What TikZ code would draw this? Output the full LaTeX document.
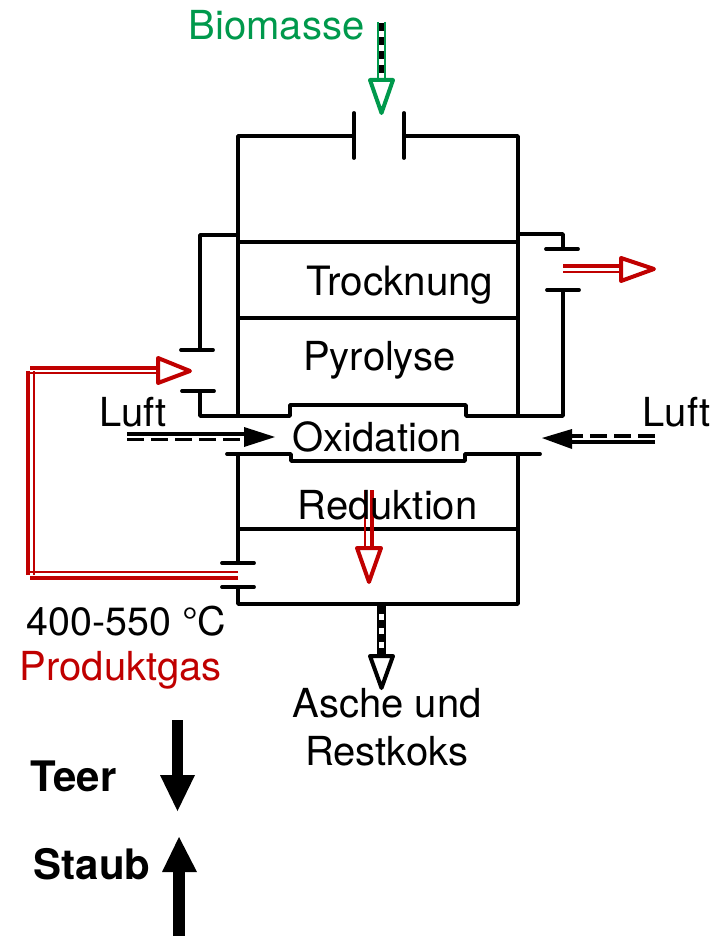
\documentclass[tikz,border=0pt]{standalone}
\usepackage{fontspec}
\setmainfont{TeX Gyre Heros}
\definecolor{gruen}{RGB}{0,153,76}
\definecolor{rot}{RGB}{192,0,0}
\tikzset{
  wall/.style={draw=black,line width=3.8pt,line cap=round,line join=round},
  thick red/.style={draw=rot,line width=4pt},
  thin red/.style={draw=rot,line width=2.2pt},
  openhead/.style={line width=4pt,line join=round,fill=white},
  solidhead/.style={fill=black,draw=none},
  lab/.style={anchor=base west,inner sep=0pt,font=\fontsize{40}{44}\selectfont},
  blab/.style={anchor=base west,inner sep=0pt,font=\fontsize{42}{46}\selectfont\bfseries},
}
\begin{document}
\begin{tikzpicture}[x=1pt,y=-1pt]
\useasboundingbox (0,0) rectangle (720,936);
% reactor walls
\draw[wall] (354,113) -- (354,158);
\draw[wall] (404,113) -- (404,158);
\draw[wall] (354,136) -- (238,136) -- (238,416);
\draw[wall] (404,136) -- (518,136) -- (518,416);
\draw[wall] (238,242) -- (518,242);
\draw[wall] (238,318) -- (518,318);
\draw[wall] (238,529) -- (518,529);
% pipes
\draw[wall] (238,235) -- (200,235) -- (200,350);
\draw[wall] (181,350) -- (213,350);
\draw[wall] (182,391) -- (214,391);
\draw[wall] (200,391) -- (200,416) -- (290,416) -- (290,405) -- (466,405) -- (466,416) -- (563,416) -- (563,290);
\draw[wall] (547,290) -- (579,290);
\draw[wall] (546,249) -- (578,249);
\draw[wall] (563,249) -- (563,234) -- (518,234);
\draw[wall] (227,454) -- (291,454) -- (291,461) -- (465,461) -- (465,454) -- (540,454);
\draw[wall] (238,454) -- (238,563);
\draw[wall] (518,454) -- (518,604) -- (238,604) -- (238,587);
\draw[wall] (222,563) -- (254,563);
\draw[wall] (222,587) -- (254,587);
% product gas loop
\draw[thick red] (238,578) -- (30,578);
\draw[thin red] (238,572) -- (30,572);
\draw[thick red] (28,575) -- (28,371);
\draw[thin red] (34,575) -- (34,371);
\draw[thick red] (30,368) -- (160,368);
\draw[thin red] (30,373) -- (160,373);
\draw[openhead,draw=rot] (158,358) -- (190,371) -- (158,383) -- cycle;
% right outlet
\draw[thick red] (563,266) -- (622,266);
\draw[thin red] (563,272) -- (622,272);
\draw[openhead,draw=rot] (621,258) -- (654,269) -- (621,281) -- cycle;
% inner red arrow
\draw[thin red] (365,490) -- (365,550);
\draw[thick red] (372,490) -- (372,550);
\draw[openhead,draw=rot] (357,548) -- (381,548) -- (369,582) -- cycle;
% Biomasse
\draw[draw=gruen,line width=2.2pt] (378.3,22) -- (378.3,82);
\draw[draw=gruen,line width=2.2pt] (384.7,22) -- (384.7,82);
\draw[draw=black,line width=4.6pt,dash pattern=on 8pt off 6pt] (381.5,23) -- (381.5,82);
\draw[openhead,draw=gruen] (370,80) -- (393,80) -- (381.5,113) -- cycle;
% ash
\draw[draw=black,line width=2.2pt] (378.3,606) -- (378.3,658);
\draw[draw=black,line width=2.2pt] (384.7,606) -- (384.7,658);
\draw[draw=black,line width=4.6pt,dash pattern=on 8pt off 6pt] (381.5,606) -- (381.5,658);
\draw[openhead,draw=black] (370,656) -- (393,656) -- (381.5,688) -- cycle;
% air left
\draw[black,line width=3.2pt] (127,434) -- (248,434);
\draw[black,line width=3.2pt,dash pattern=on 17pt off 7pt] (127,439.5) -- (248,439.5);
\path[solidhead] (244,427) -- (275,437) -- (244,447) -- cycle;
% air right
\draw[black,line width=3.2pt,dash pattern=on 17pt off 7pt] (655,436) -- (568,436);
\draw[black,line width=3.2pt] (655,442) -- (568,442);
\path[solidhead] (572,429) -- (542,438) -- (572,449) -- cycle;
% Teer, Staub
\path[fill=black] (172,720) rectangle (183,776);
\path[solidhead] (160,775) -- (195,775) -- (177.5,811) -- cycle;
\path[fill=black] (173,871) rectangle (185,936);
\path[solidhead] (162,872) -- (197,872) -- (179,837) -- cycle;
% labels
\node[lab,text=gruen] (biomasse) at (188.5,40) {Biomasse};
\node[lab,font=\fontsize{40.4}{44}\selectfont] (trocknung) at (306,295) {Trocknung};
\node[lab] (pyrolyse) at (303,370) {Pyrolyse};
\node[lab] (oxidation) at (292.5,451) {Oxidation};
\node[lab] (reduktion) at (297.5,519) {Reduktion};
\node[lab] (luftl) at (99,426) {Luft};
\node[lab] (luftr) at (642.5,426) {Luft};
\node[lab,font=\fontsize{39.4}{44}\selectfont] (temp) at (26.5,635) {400-550 °C};
\node[lab,text=rot] (produktgas) at (19.5,680) {Produktgas};
\node[lab] (asche) at (292.5,717) {Asche und};
\node[lab] (restkoks) at (305,765) {Restkoks};
\node[blab] (teer) at (30.5,791) {Teer};
\node[blab] (staub) at (33.5,879) {Staub};
\end{tikzpicture}
\end{document}
